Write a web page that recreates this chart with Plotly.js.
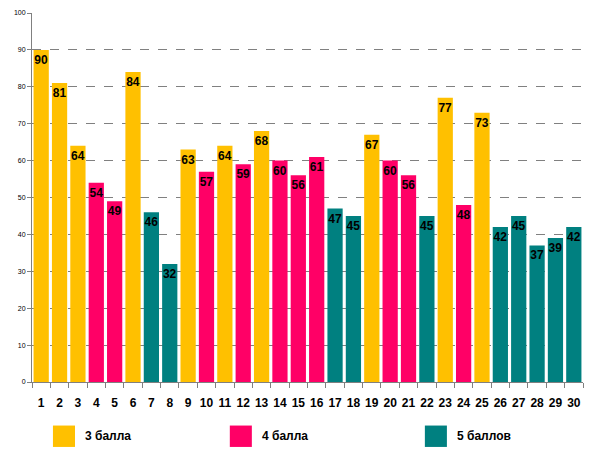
<!DOCTYPE html>
<html>
<head>
<meta charset="utf-8">
<script src="https://cdn.plot.ly/plotly-3.0.1.min.js"></script>
<style>
  html, body { margin: 0; padding: 0; background: #fff; }
  #chart { width: 594px; height: 456px; }
</style>
</head>
<body>
<div id="chart"></div>
<script>
// task numbers 1..30 and the share of correct answers
var tasks = ["1","2","3","4","5","6","7","8","9","10","11","12","13","14","15",
             "16","17","18","19","20","21","22","23","24","25","26","27","28","29","30"];
var values = [90, 81, 64, 54, 49, 84, 46, 32, 63, 57, 64, 59, 68, 60, 56,
              61, 47, 45, 67, 60, 56, 45, 77, 48, 73, 42, 45, 37, 39, 42];
// grade each task belongs to (3, 4 or 5 points)
var grades = [3, 3, 3, 4, 4, 3, 5, 5, 3, 4, 3, 4, 3, 4, 4,
              4, 5, 5, 3, 4, 4, 5, 3, 4, 3, 5, 5, 5, 5, 5];
var gradeNames = {3: "3 балла", 4: "4 балла", 5: "5 баллов"};
var gradeColors = {3: "#FFC000", 4: "#FF0066", 5: "#008080"};

var traces = [];
[3, 4, 5].forEach(function(g){
    var xs = [], ys = [];
    for (var i = 0; i < tasks.length; i++){
        if (grades[i] == g){ xs.push(tasks[i]); ys.push(values[i]); }
    }
    traces.push({
        x: xs,
        y: ys,
        type: 'bar',
        name: gradeNames[g],
        marker: {color: gradeColors[g]},
        text: ys.map(String),
        textposition: 'inside',
        insidetextanchor: 'end',
        constraintext: 'none',
        textangle: 0,
        textfont: {family: 'Liberation Sans Narrow, Liberation Sans, Arial', size: 12, color: '#000', weight: 'bold'},
        hoverinfo: 'x+y'
    });
});

// legend drawn as big squares under the plot
var legendX = [0.038, 0.359, 0.713];
var shapes = [], annotations = [];
[3, 4, 5].forEach(function(g, k){
    shapes.push({
        type: 'rect', xref: 'paper', yref: 'paper',
        x0: legendX[k], x1: legendX[k] + 0.04, y0: -0.118, y1: -0.176,
        fillcolor: gradeColors[g], line: {width: 0}
    });
    annotations.push({
        xref: 'paper', yref: 'paper', x: legendX[k] + 0.054, y: -0.147,
        xanchor: 'left', yanchor: 'middle', showarrow: false,
        text: gradeNames[g],
        font: {family: 'Liberation Sans, Arial', size: 12, color: '#000', weight: 'bold'}
    });
});

var layout = {
    width: 594,
    height: 456,
    margin: {l: 32, r: 11, t: 13, b: 74},
    paper_bgcolor: '#fff',
    plot_bgcolor: '#fff',
    barmode: 'overlay',
    bargap: 0.17,
    showlegend: false,
    font: {family: 'Liberation Sans, Arial', color: '#000'},
    xaxis: {
        type: 'category',
        categoryorder: 'array',
        categoryarray: tasks,
        tickson: 'boundaries',
        ticks: 'outside',
        ticklen: 5,
        tickcolor: '#808080',
        tickangle: 0,
        showline: true,
        linecolor: '#808080',
        showgrid: false,
        ticklabelstandoff: 10,
        tickfont: {family: 'Liberation Sans Narrow, Liberation Sans, Arial', size: 12, weight: 'bold', color: '#000'},
        fixedrange: true
    },
    yaxis: {
        range: [0, 100],
        dtick: 10,
        ticks: 'outside',
        ticklen: 4,
        tickcolor: '#808080',
        showline: true,
        linecolor: '#808080',
        showgrid: true,
        gridcolor: '#808080',
        griddash: 'dash',
        zeroline: false,
        tickfont: {size: 7, color: '#000'},
        fixedrange: true
    },
    shapes: shapes,
    annotations: annotations
};

Plotly.newPlot('chart', traces, layout, {displayModeBar: false, staticPlot: true});
</script>
</body>
</html>
